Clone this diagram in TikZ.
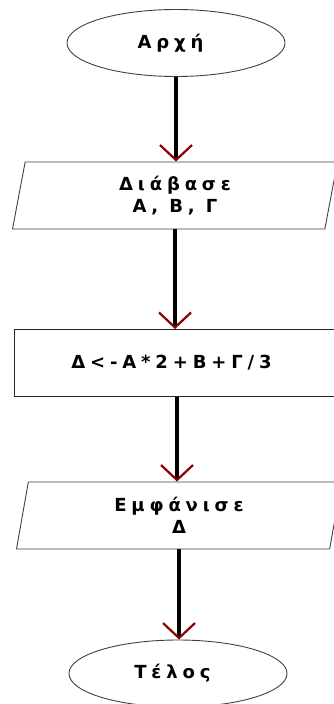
\documentclass[tikz,border=0pt]{standalone}
\usepackage{fontspec}
\newfontfamily\flowfont{DejaVu Sans}[LetterSpace=27]
\usetikzlibrary{arrows.meta,shapes.geometric}
\def\boxw{325pt}
\def\boxh{67pt}

\begin{document}
\begin{tikzpicture}[
    x=1pt, y=1pt,
    flowtext/.style={
      font=\flowfont\bfseries\fontsize{18}{22}\selectfont, align=center, inner sep=0pt
    },
    terminal/.style={
      flowtext, ellipse, draw=black!75, line width=0.9pt,
      minimum width=218pt, minimum height=67pt
    },
    iobox/.style={
      flowtext, trapezium, draw=black!75, line width=0.9pt,
      trapezium left angle=72, trapezium right angle=108,
      trapezium stretches body,
      minimum width=\boxw, minimum height=\boxh
    },
    procbox/.style={
      flowtext, rectangle, draw=black!85, line width=1pt,
      minimum width=\boxw, minimum height=\boxh
    },
    flowline/.style={
      line width=3.4pt,
      -{Straight Barb[color=red!55!black, length=15pt, width=32pt, line width=2.2pt]}
    }
  ]
    \useasboundingbox (0,0) rectangle (333,-704);

    % flowchart blocks
    \node[terminal] (start) at (176,-43) { Αρχή };
    \node[iobox] (read) at (175,-195.5) { Διάβασε\\Α, Β, Γ };
    \node[procbox] (calc) at (177,-363) { Δ<-Α*2+Β+Γ/3 };
    \node[iobox] (show) at (179,-515.5) { Εμφάνισε\\Δ };
    \node[terminal] (stop) at (178,-673.5) { Τέλος };

    % connectors
    \draw[flowline] (start.south) -- (start.south |- read.north);
    \draw[flowline] (read.south) -- (read.south |- calc.north);
    \draw[flowline] (calc.south) -- (calc.south |- show.north);
    \draw[flowline] (show.south) -- (show.south |- stop.north);
  \end{tikzpicture}
\end{document}
